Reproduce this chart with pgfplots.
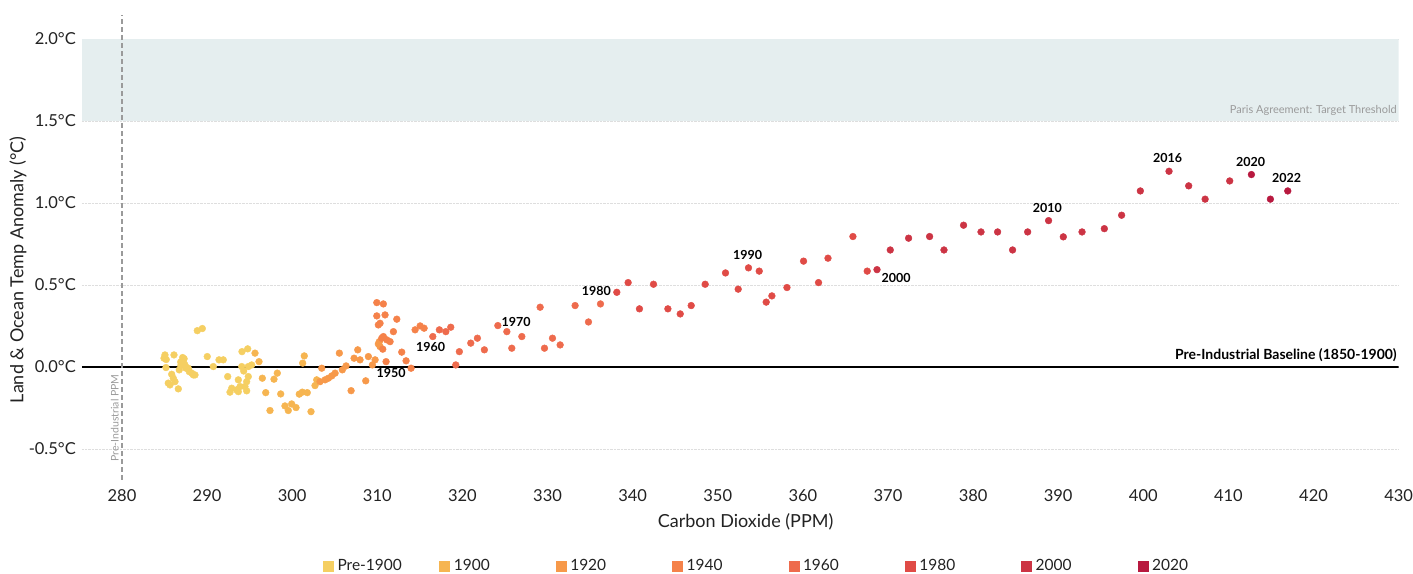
\documentclass[border=0pt]{standalone}
\usepackage{pgfplots}
\pgfplotsset{compat=1.18}
\usepackage{fontspec}
\setmainfont{Lato}
\definecolor{cA}{HTML}{F5CF62}
\definecolor{cB}{HTML}{F6B551}
\definecolor{cC}{HTML}{F7994A}
\definecolor{cD}{HTML}{F5824A}
\definecolor{cE}{HTML}{EE6B4D}
\definecolor{cF}{HTML}{E04B46}
\definecolor{cG}{HTML}{CC3444}
\definecolor{cH}{HTML}{B8193F}
\definecolor{band}{HTML}{E5EEEF}
\definecolor{lbl}{HTML}{222222}
\definecolor{gtxt}{HTML}{9A9A9A}
\begin{document}
\begin{tikzpicture}
\begin{axis}[name=ax, scale only axis, width=1317pt, height=465pt,
  xmin=275.3, xmax=430, ymin=-0.689, ymax=2.146,
  axis line style={draw=none}, major tick length=0pt, tick style={draw=none},
  xtick={280,290,...,430}, ytick={-0.5,0,0.5,1,1.5,2},
  ymajorgrids, grid style={densely dotted, color=black!13, line width=0.7pt},
  /pgf/number format/assume math mode=true,
  yticklabel={\pgfmathprintnumber[fixed,fixed zerofill,precision=1]{\tick}°C},
  xticklabel style={font=\fontsize{16.5}{19}\selectfont, text=lbl, inner sep=0pt, anchor=north, yshift=-9pt},
  yticklabel style={font=\fontsize{16.5}{19}\selectfont, text=lbl, inner sep=0pt, anchor=east, xshift=-6pt},
  xlabel={Carbon Dioxide (PPM)},
  ylabel={Land \& Ocean Temp Anomaly (°C)},
  xlabel style={at={(axis description cs:0.504,-0.090)}, anchor=center, font=\fontsize{18}{21}\selectfont, text=lbl},
  ylabel style={at={(axis description cs:-0.0486,0.452)}, anchor=center, font=\fontsize{18}{21}\selectfont, text=lbl},
  legend style={at={(axis description cs:0.183,-0.185)}, anchor=west, draw=none, fill=none,
    font=\fontsize{15.5}{18}\selectfont, inner sep=0pt, column sep=0pt,
    nodes={inner sep=0pt, text=lbl},
    /tikz/every odd column/.append style={column sep=4pt}},
  legend columns=8, legend cell align=left,
  legend image code/.code={\fill[#1] (0pt,-5pt) rectangle (10pt,5pt);},
  clip mode=individual,
]
\addplot[draw=none, fill=band, forget plot] coordinates {(275.3,1.5) (430,1.5) (430,2.0) (275.3,2.0)} -- cycle;
\addplot[black, line width=1.4pt, forget plot] coordinates {(275.3,0) (430,0)};
\addplot[gtxt, line width=1.2pt, dash pattern=on 5pt off 3pt, forget plot] coordinates {(280,-0.689) (280,2.146)};

\addplot[only marks, mark=*, color=cA, mark size=3.4pt, mark options={draw=none}] coordinates {
(288.85,0.221)(289.44,0.234)(285.05,0.073)(284.94,0.053)(285.17,-0.004)(286.11,0.073)(285.84,-0.045)(286.03,-0.069)(286.23,-0.090)(285.44,-0.099)(285.64,-0.110)(286.62,-0.134)(287.13,0.057)(287.20,0.032)(287.40,0.012)(286.90,0.008)(286.73,-0.018)(287.52,-0.008)(287.79,-0.008)(287.91,-0.029)(288.19,-0.038)(288.38,-0.049)(288.58,-0.049)(290.02,0.063)(290.73,0.002)(291.40,0.043)(291.90,0.043)(292.42,-0.059)(294.10,0.093)(294.77,0.110)(294.07,0.002)(294.84,0.002)(295.24,0.012)(293.67,-0.079)(294.84,-0.059)(294.65,-0.090)(294.45,-0.120)(293.87,-0.120)(292.89,-0.130)(293.48,-0.140)(294.65,-0.146)(293.67,-0.151)(292.69,-0.154)(287.3,0.05)(286.9,0.03)(294.3,-0.025)(285.2,0.045)};
\addlegendentry{\makebox[102pt][l]{Pre-1900}}

\addplot[only marks, mark=*, color=cB, mark size=3.4pt, mark options={draw=none}] coordinates {
(295.63,0.084)(296.10,0.032)(296.49,-0.069)(296.89,-0.157)(297.39,-0.266)(297.86,-0.075)(298.25,-0.038)(298.65,-0.165)(299.15,-0.238)(299.54,-0.266)(299.94,-0.226)(300.45,-0.248)(300.83,-0.166)(301.19,-0.154)(301.23,0.023)(301.42,0.067)(301.77,-0.157)(302.21,-0.273)(302.68,-0.114)(302.88,-0.079)};
\addlegendentry{\makebox[102pt][l]{1900}}

\addplot[only marks, mark=*, color=cC, mark size=3.4pt, mark options={draw=none}] coordinates {
(303.27,-0.090)(303.47,-0.008)(303.86,-0.079)(304.25,-0.069)(304.65,-0.055)(305.04,-0.038)(305.54,0.084)(305.89,-0.018)(306.33,0.006)(306.92,-0.145)(307.27,0.053)(307.70,0.104)(307.97,0.043)(308.64,-0.085)(308.95,0.063)(309.42,0.012)(309.74,0.043)(310.24,0.154)(310.12,0.140)(310.32,0.124)};
\addlegendentry{\makebox[102pt][l]{1920}}

\addplot[only marks, mark=*, color=cD, mark size=3.4pt, mark options={draw=none}] coordinates {
(309.94,0.392)(310.71,0.384)(309.94,0.311)(310.91,0.317)(310.32,0.266)(310.12,0.256)(312.29,0.291)(311.89,0.215)(310.71,0.185)(310.52,0.175)(310.64,0.108)(311.11,0.165)(311.50,0.154)(311.03,0.032)(312.87,0.090)(313.38,0.037)(313.97,-0.008)(314.44,0.226)(315.03,0.250)(315.50,0.236)};
\addlegendentry{\makebox[102pt][l]{1940}}

\addplot[only marks, mark=*, color=cE, mark size=3.4pt, mark options={draw=none}] coordinates {
(316.52,0.185)(317.29,0.226)(318.05,0.215)(318.63,0.242)(319.22,0.012)(319.64,0.093)(320.98,0.145)(321.76,0.175)(322.58,0.104)(324.16,0.252)(325.22,0.215)(325.80,0.114)(326.98,0.185)(329.13,0.364)(329.64,0.114)(330.58,0.175)(331.48,0.134)(333.24,0.374)(334.81,0.274)(336.22,0.384)};
\addlegendentry{\makebox[102pt][l]{1960}}

\addplot[only marks, mark=*, color=cF, mark size=3.4pt, mark options={draw=none}] coordinates {
(338.14,0.455)(339.47,0.514)(340.80,0.354)(342.45,0.504)(344.14,0.354)(345.59,0.323)(346.88,0.374)(348.52,0.504)(350.91,0.573)(352.40,0.474)(353.61,0.604)(354.87,0.584)(355.69,0.395)(356.36,0.433)(358.13,0.484)(360.08,0.645)(361.84,0.514)(362.95,0.663)(365.88,0.795)(367.56,0.584)};
\addlegendentry{\makebox[102pt][l]{1980}}

\addplot[only marks, mark=*, color=cG, mark size=3.4pt, mark options={draw=none}] coordinates {
(368.71,0.593)(370.27,0.713)(372.42,0.785)(374.89,0.795)(376.58,0.713)(378.88,0.864)(380.93,0.823)(382.88,0.823)(384.64,0.713)(386.41,0.823)(388.87,0.892)(390.60,0.793)(392.80,0.823)(395.42,0.843)(397.45,0.925)(399.65,1.073)(403.02,1.193)(405.33,1.104)(407.26,1.023)(410.15,1.134)};
\addlegendentry{\makebox[102pt][l]{2000}}

\addplot[only marks, mark=*, color=cH, mark size=3.4pt, mark options={draw=none}] coordinates {
(412.70,1.173)(414.93,1.023)(416.97,1.073)};
\addlegendentry{\makebox[40pt][l]{2020}}

\begin{scope}[every node/.style={font=\bfseries\fontsize{12.5}{14}\selectfont, text=black, inner sep=0pt}]
\node at (axis cs:311.62,-0.037) {1950};
\node at (axis cs:316.26,0.122) {1960};
\node at (axis cs:326.31,0.273) {1970};
\node at (axis cs:335.73,0.462) {1980};
\node at (axis cs:353.52,0.683) {1990};
\node at (axis cs:370.95,0.545) {2000};
\node at (axis cs:388.72,0.970) {2010};
\node at (axis cs:402.85,1.274) {2016};
\node at (axis cs:412.62,1.252) {2020};
\node at (axis cs:416.85,1.154) {2022};
\end{scope}
\node[font=\bfseries\fontsize{14}{16}\selectfont, text=black, anchor=base east, inner sep=0pt] at (axis cs:429.8,0.043) {Pre-Industrial Baseline (1850-1900)};
\node[font=\fontsize{11}{13}\selectfont, text=gtxt, anchor=base east, inner sep=0pt] at (axis cs:429.8,1.543) {Paris Agreement: Target Threshold};
\node[font=\fontsize{10.5}{12}\selectfont, text=gtxt, rotate=90, anchor=south, inner sep=3pt] at (axis cs:280,-0.311) {Pre-Industrial PPM};
\end{axis}
\path ([shift={(-82pt,-94pt)}]ax.south west) rectangle ([shift={(1331pt,480pt)}]ax.south west);
\end{tikzpicture}
\end{document}
